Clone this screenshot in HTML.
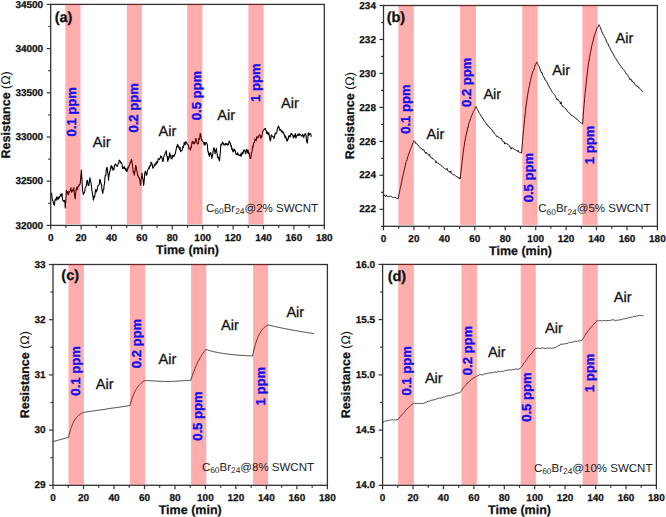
<!DOCTYPE html>
<html><head><meta charset="utf-8"><style>
html,body{margin:0;padding:0;background:#fff;}
svg{display:block;}
text{font-family:"Liberation Sans", sans-serif;text-rendering:geometricPrecision;}
.tk{font-size:10px;font-weight:bold;fill:#111;stroke:#111;stroke-width:0.25px;}
.ttl{font-size:12.5px;font-weight:bold;fill:#111;stroke:#111;stroke-width:0.25px;}
.tag{font-size:14.5px;font-weight:bold;fill:#111;stroke:#111;stroke-width:0.3px;}
.ppm{font-size:13.1px;font-weight:bold;fill:#1010f0;stroke:#1010f0;stroke-width:0.35px;}
.air{font-size:14.6px;fill:#111;stroke:#111;stroke-width:0.3px;}
.ann{font-size:11.5px;fill:#222;}
.sub{font-size:8.4px;}
</style></head><body>
<svg width="666" height="517" viewBox="0 0 666 517">
<rect width="666" height="517" fill="#fff"/>
<rect x="50.7" y="4.4" width="273.6" height="221.0" fill="none" stroke="#333" stroke-width="1.3"/>
<polyline points="51.3,192.8 51.7,194.1 52.1,198.0 52.5,200.3 53.0,201.0 53.5,203.3 53.9,204.6 54.4,205.3 54.8,201.3 55.3,199.0 55.7,199.0 56.2,200.2 56.6,197.3 57.0,196.9 57.5,197.8 57.9,199.8 58.3,197.2 58.8,198.6 59.2,196.8 59.6,197.3 60.0,196.5 60.5,194.2 61.0,195.5 61.5,195.8 62.0,193.4 62.6,200.3 63.1,200.4 63.5,201.4 64.0,201.1 64.5,200.3 64.9,202.2 65.3,207.9 65.8,200.2 66.4,190.3 66.8,191.9 67.2,191.9 67.6,194.0 68.0,191.5 68.5,194.8 68.9,192.8 69.4,191.4 69.8,191.2 70.3,190.6 70.8,187.7 71.2,189.9 71.6,192.1 72.0,191.5 72.5,190.1 73.0,190.9 73.4,188.4 73.9,187.7 74.3,193.4 74.8,196.9 75.2,199.0 75.6,193.9 76.0,190.7 76.4,189.0 76.9,187.1 77.3,189.8 77.8,186.8 78.3,186.5 78.8,186.4 79.2,184.4 79.7,184.7 80.2,184.0 80.6,178.9 81.0,174.1 81.4,170.1 82.0,180.6 82.5,190.3 82.9,191.9 83.3,194.5 83.7,194.0 84.2,192.7 84.7,191.7 85.2,187.7 85.7,187.4 86.2,186.1 86.6,182.8 87.1,180.2 87.5,180.4 88.0,185.1 88.4,185.2 88.8,185.4 89.2,183.2 89.6,179.9 90.0,177.7 90.5,181.6 91.0,182.3 91.5,186.5 92.0,191.4 92.5,193.7 92.9,195.9 93.4,200.3 93.9,196.2 94.3,197.5 94.8,195.9 95.3,191.5 95.8,189.4 96.2,192.2 96.7,190.2 97.2,190.3 97.6,187.1 98.0,186.0 98.4,185.2 98.9,185.1 99.3,184.3 99.8,179.4 100.3,180.2 100.8,183.2 101.3,183.2 101.8,187.7 102.3,191.5 102.8,193.4 103.2,189.9 103.7,189.6 104.1,185.2 104.5,184.0 104.9,178.6 105.3,175.2 105.8,175.5 106.2,170.6 106.7,167.6 107.2,167.6 107.6,172.2 108.1,173.9 108.5,180.2 108.9,175.9 109.3,173.9 109.7,171.4 110.2,170.6 110.7,167.4 111.1,165.6 111.6,166.4 112.1,168.6 112.5,166.8 113.0,170.3 113.5,168.9 114.0,169.4 114.5,165.8 114.9,164.9 115.4,163.8 115.9,164.5 116.3,165.7 116.8,166.2 117.3,166.4 117.8,165.1 118.2,163.8 118.7,163.6 119.2,160.1 119.7,160.8 120.2,161.0 120.6,162.9 121.1,162.6 121.6,162.7 122.0,164.2 122.5,168.5 123.0,167.6 123.5,168.0 123.9,168.5 124.3,166.4 124.8,168.9 125.2,169.0 125.6,170.3 126.1,168.3 126.5,171.5 126.9,171.5 127.4,170.8 127.9,167.1 128.3,168.3 128.8,166.5 129.2,165.2 129.6,165.0 130.1,162.4 130.5,162.8 130.9,161.8 131.3,159.6 131.7,159.8 132.1,162.3 132.5,166.5 133.0,169.5 133.4,172.9 133.9,172.0 134.4,175.3 134.8,171.8 135.3,169.0 135.7,165.3 136.2,167.0 136.6,169.7 137.1,172.0 137.6,175.3 138.1,175.7 138.6,177.6 139.0,177.3 139.5,179.1 139.9,180.7 140.3,184.5 140.7,185.4 141.1,179.1 141.6,177.3 142.0,172.8 142.4,177.0 142.8,178.3 143.2,181.0 143.6,185.4 144.1,182.1 144.6,175.0 145.1,171.5 145.5,171.4 146.0,173.7 146.4,175.3 146.9,174.6 147.4,170.4 147.8,169.8 148.3,169.0 148.8,167.3 149.2,168.6 149.7,166.0 150.2,165.3 150.6,166.0 151.0,162.1 151.4,162.7 151.9,163.3 152.4,165.9 152.8,168.2 153.3,167.8 153.8,167.0 154.2,165.3 154.7,164.3 155.2,165.3 155.7,164.5 156.1,162.0 156.6,163.8 157.1,161.5 157.6,162.4 158.1,158.9 158.5,158.7 159.0,159.0 159.4,159.6 159.9,158.0 160.4,157.9 160.8,155.8 161.3,156.5 161.8,157.0 162.2,159.2 162.7,161.5 163.2,161.2 163.6,157.3 164.1,156.1 164.6,155.2 165.0,153.7 165.4,152.6 165.9,151.5 166.3,150.8 166.8,156.2 167.3,156.4 167.8,161.5 168.3,157.1 168.8,159.1 169.2,156.6 169.7,152.7 170.1,156.1 170.6,154.9 171.1,158.4 171.5,157.7 172.0,159.0 172.4,155.2 172.9,156.9 173.4,155.2 173.9,156.4 174.4,155.3 174.8,154.3 175.3,153.9 175.8,150.9 176.2,149.2 176.7,146.6 177.2,145.8 177.7,144.3 178.1,147.1 178.6,146.2 179.1,147.6 179.6,149.8 180.1,147.2 180.5,151.8 181.0,150.8 181.5,150.6 181.9,150.5 182.4,149.2 182.9,146.4 183.3,147.5 183.8,145.5 184.2,142.4 184.7,143.9 185.2,144.7 185.6,141.8 186.1,142.0 186.6,142.6 187.1,144.1 187.6,144.3 188.0,144.6 188.5,145.8 189.0,148.8 189.4,148.5 189.9,148.4 190.4,150.2 190.9,146.9 191.4,147.4 191.8,143.5 192.3,141.4 192.8,143.3 193.2,142.0 193.7,141.9 194.2,143.9 194.7,142.8 195.1,142.7 195.6,138.6 196.1,138.8 196.6,141.4 197.1,143.2 197.5,144.0 198.0,143.9 198.4,143.6 198.8,138.4 199.2,139.4 199.7,138.8 200.1,133.5 200.5,133.8 201.0,136.0 201.5,140.2 201.9,139.6 202.3,141.2 202.7,141.2 203.1,142.0 203.6,142.7 204.1,144.8 204.5,142.2 205.0,145.2 205.5,142.9 205.9,142.9 206.4,142.6 206.9,143.9 207.3,144.5 207.8,151.1 208.2,151.5 208.6,154.7 209.0,153.0 209.4,156.5 209.8,155.2 210.3,153.2 210.7,152.7 211.1,153.8 211.5,155.8 211.9,158.4 212.4,156.4 212.9,153.4 213.3,149.8 213.8,147.7 214.2,148.4 214.7,151.1 215.1,154.0 215.5,150.4 216.0,150.4 216.4,148.3 216.8,152.4 217.2,154.1 217.6,157.8 218.1,156.7 218.6,157.9 219.0,159.6 219.5,160.9 219.9,156.1 220.4,151.7 220.8,145.2 221.2,143.9 221.7,144.9 222.2,143.3 222.6,142.0 223.0,142.8 223.5,143.6 223.9,145.2 224.4,144.7 224.9,145.1 225.3,143.4 225.8,143.3 226.3,144.6 226.8,144.1 227.2,143.6 227.7,145.2 228.2,144.6 228.6,144.5 229.1,140.9 229.6,142.0 230.1,142.6 230.5,143.6 230.9,146.5 231.4,145.8 231.8,149.4 232.3,148.6 232.7,150.8 233.1,152.0 233.6,150.9 234.0,149.0 234.4,149.1 234.9,151.0 235.4,150.6 235.8,153.4 236.3,154.6 236.8,153.8 237.2,154.6 237.7,152.7 238.2,154.6 238.6,154.7 239.1,155.6 239.6,155.2 240.1,155.7 240.6,153.8 241.0,156.1 241.5,155.9 242.0,152.6 242.4,152.1 242.9,153.8 243.4,151.5 243.9,149.8 244.4,150.3 244.8,150.6 245.3,152.7 245.8,153.9 246.2,150.3 246.7,149.2 247.2,150.8 247.7,152.8 248.1,150.1 248.6,153.7 249.1,152.7 249.5,155.4 249.9,158.0 250.3,158.4 250.7,158.5 251.2,154.9 251.6,152.7 252.1,151.8 252.6,146.3 253.0,147.3 253.5,143.9 253.9,142.8 254.4,142.6 254.9,138.9 255.3,139.5 255.8,140.3 256.2,140.8 256.7,136.7 257.2,138.3 257.7,136.7 258.1,137.0 258.6,137.3 259.1,135.1 259.6,134.8 260.1,135.3 260.5,136.4 261.0,138.3 261.5,137.1 261.9,136.0 262.4,132.7 262.9,131.4 263.3,130.3 263.8,129.8 264.2,129.1 264.6,129.2 265.0,129.2 265.4,128.2 265.8,130.4 266.2,130.8 266.7,133.5 267.2,131.7 267.7,132.8 268.2,134.6 268.7,132.7 269.2,134.9 269.8,138.8 270.3,141.0 270.8,139.1 271.3,134.9 271.8,136.2 272.3,136.0 272.8,136.4 273.2,136.5 273.6,137.3 274.0,138.5 274.4,136.9 274.9,134.3 275.4,133.1 275.9,133.8 276.4,133.2 276.9,132.2 277.4,128.7 277.9,127.5 278.5,126.1 279.0,127.2 279.5,129.8 280.0,130.2 280.5,129.4 281.0,130.2 281.5,131.8 281.9,130.7 282.3,132.7 282.7,131.7 283.1,132.8 283.6,132.3 284.1,135.0 284.6,134.9 285.1,137.9 285.6,136.0 286.1,137.9 286.6,140.4 287.2,141.0 287.7,138.9 288.2,139.2 288.7,135.9 289.2,136.6 289.7,135.5 290.2,136.9 290.6,134.9 291.0,133.3 291.4,134.5 291.8,133.8 292.3,134.7 292.8,135.1 293.3,137.9 293.7,136.5 294.1,135.6 294.5,136.9 294.9,134.9 295.4,133.8 295.9,138.1 296.4,136.4 296.9,135.6 297.4,135.4 297.9,134.3 298.3,134.0 298.7,135.5 299.1,135.3 299.5,133.8 300.0,134.6 300.5,134.8 301.0,135.4 301.5,136.0 302.0,136.2 302.5,134.3 302.9,134.3 303.3,136.1 303.7,137.5 304.1,135.9 304.6,135.2 305.1,133.6 305.6,134.3 306.0,135.3 306.4,139.7 306.8,141.7 307.2,143.1 307.7,140.0 308.2,132.8 308.7,135.4 309.2,134.9 309.7,133.2 310.2,133.8 310.8,134.0 311.3,136.9" fill="none" stroke="#000" stroke-width="1.1" stroke-linejoin="round"/>
<rect x="65.4" y="4.0" width="15.2" height="220.0" fill="rgba(255,0,0,0.32)"/>
<rect x="126.9" y="4.0" width="15.0" height="220.0" fill="rgba(255,0,0,0.32)"/>
<rect x="187.2" y="4.0" width="15.2" height="220.0" fill="rgba(255,0,0,0.32)"/>
<rect x="248.4" y="4.0" width="15.2" height="220.0" fill="rgba(255,0,0,0.32)"/>
<line x1="50.7" y1="225.4" x2="50.7" y2="229.4" stroke="#333" stroke-width="1.2"/>
<text x="50.7" y="241.1" text-anchor="middle" class="tk">0</text>
<line x1="65.9" y1="225.4" x2="65.9" y2="227.9" stroke="#333" stroke-width="1.2"/>
<line x1="81.1" y1="225.4" x2="81.1" y2="229.4" stroke="#333" stroke-width="1.2"/>
<text x="81.1" y="241.1" text-anchor="middle" class="tk">20</text>
<line x1="96.3" y1="225.4" x2="96.3" y2="227.9" stroke="#333" stroke-width="1.2"/>
<line x1="111.5" y1="225.4" x2="111.5" y2="229.4" stroke="#333" stroke-width="1.2"/>
<text x="111.5" y="241.1" text-anchor="middle" class="tk">40</text>
<line x1="126.7" y1="225.4" x2="126.7" y2="227.9" stroke="#333" stroke-width="1.2"/>
<line x1="141.9" y1="225.4" x2="141.9" y2="229.4" stroke="#333" stroke-width="1.2"/>
<text x="141.9" y="241.1" text-anchor="middle" class="tk">60</text>
<line x1="157.1" y1="225.4" x2="157.1" y2="227.9" stroke="#333" stroke-width="1.2"/>
<line x1="172.3" y1="225.4" x2="172.3" y2="229.4" stroke="#333" stroke-width="1.2"/>
<text x="172.3" y="241.1" text-anchor="middle" class="tk">80</text>
<line x1="187.5" y1="225.4" x2="187.5" y2="227.9" stroke="#333" stroke-width="1.2"/>
<line x1="202.7" y1="225.4" x2="202.7" y2="229.4" stroke="#333" stroke-width="1.2"/>
<text x="202.7" y="241.1" text-anchor="middle" class="tk">100</text>
<line x1="217.9" y1="225.4" x2="217.9" y2="227.9" stroke="#333" stroke-width="1.2"/>
<line x1="233.1" y1="225.4" x2="233.1" y2="229.4" stroke="#333" stroke-width="1.2"/>
<text x="233.1" y="241.1" text-anchor="middle" class="tk">120</text>
<line x1="248.3" y1="225.4" x2="248.3" y2="227.9" stroke="#333" stroke-width="1.2"/>
<line x1="263.5" y1="225.4" x2="263.5" y2="229.4" stroke="#333" stroke-width="1.2"/>
<text x="263.5" y="241.1" text-anchor="middle" class="tk">140</text>
<line x1="278.7" y1="225.4" x2="278.7" y2="227.9" stroke="#333" stroke-width="1.2"/>
<line x1="293.9" y1="225.4" x2="293.9" y2="229.4" stroke="#333" stroke-width="1.2"/>
<text x="293.9" y="241.1" text-anchor="middle" class="tk">160</text>
<line x1="309.1" y1="225.4" x2="309.1" y2="227.9" stroke="#333" stroke-width="1.2"/>
<line x1="324.3" y1="225.4" x2="324.3" y2="229.4" stroke="#333" stroke-width="1.2"/>
<text x="324.3" y="241.1" text-anchor="middle" class="tk">180</text>
<line x1="46.7" y1="225.4" x2="50.7" y2="225.4" stroke="#333" stroke-width="1.2"/>
<text x="43.2" y="228.5" text-anchor="end" class="tk">32000</text>
<line x1="48.2" y1="203.3" x2="50.7" y2="203.3" stroke="#333" stroke-width="1.2"/>
<line x1="46.7" y1="181.2" x2="50.7" y2="181.2" stroke="#333" stroke-width="1.2"/>
<text x="43.2" y="184.3" text-anchor="end" class="tk">32500</text>
<line x1="48.2" y1="159.1" x2="50.7" y2="159.1" stroke="#333" stroke-width="1.2"/>
<line x1="46.7" y1="137.0" x2="50.7" y2="137.0" stroke="#333" stroke-width="1.2"/>
<text x="43.2" y="140.1" text-anchor="end" class="tk">33000</text>
<line x1="48.2" y1="114.9" x2="50.7" y2="114.9" stroke="#333" stroke-width="1.2"/>
<line x1="46.7" y1="92.8" x2="50.7" y2="92.8" stroke="#333" stroke-width="1.2"/>
<text x="43.2" y="95.9" text-anchor="end" class="tk">33500</text>
<line x1="48.2" y1="70.7" x2="50.7" y2="70.7" stroke="#333" stroke-width="1.2"/>
<line x1="46.7" y1="48.6" x2="50.7" y2="48.6" stroke="#333" stroke-width="1.2"/>
<text x="43.2" y="51.7" text-anchor="end" class="tk">34000</text>
<line x1="48.2" y1="26.5" x2="50.7" y2="26.5" stroke="#333" stroke-width="1.2"/>
<line x1="46.7" y1="4.4" x2="50.7" y2="4.4" stroke="#333" stroke-width="1.2"/>
<text x="43.2" y="7.5" text-anchor="end" class="tk">34500</text>
<text x="187.5" y="253.6" text-anchor="middle" class="ttl">Time (min)</text>
<text transform="translate(9.7,114.85) rotate(-90)" text-anchor="middle" class="ttl">Resistance <tspan font-weight="normal" stroke-width="0">(&#937;)</tspan></text>
<text x="54.7" y="21.5" class="tag">(a)</text>
<text transform="translate(76.4,111.75) rotate(-90)" text-anchor="middle" class="ppm">0.1 ppm</text>
<text transform="translate(137.8,107.85) rotate(-90)" text-anchor="middle" class="ppm">0.2 ppm</text>
<text transform="translate(200.5,95.55) rotate(-90)" text-anchor="middle" class="ppm">0.5 ppm</text>
<text transform="translate(259.9,82.6) rotate(-90)" text-anchor="middle" class="ppm">1 ppm</text>
<text x="92.7" y="147.3" class="air">Air</text>
<text x="158.5" y="135.7" class="air">Air</text>
<text x="217.2" y="119.6" class="air">Air</text>
<text x="281.1" y="108.0" class="air">Air</text>
<text x="206.0" y="212.1" class="ann">C<tspan class="sub" dy="2.2">60</tspan><tspan dy="-2.2">Br</tspan><tspan class="sub" dy="2.2">24</tspan><tspan dy="-2.2">@2% SWCNT</tspan></text>
<rect x="383.5" y="5.5" width="273.9" height="220.8" fill="none" stroke="#333" stroke-width="1.3"/>
<polyline points="383.8,195.6 384.3,194.9 384.8,195.9 385.3,196.2 385.8,196.1 386.3,194.9 386.8,196.3 387.3,196.6 387.8,196.1 388.3,196.4 388.8,196.7 389.3,196.3 389.8,196.6 390.3,196.3 390.8,196.2 391.3,196.9 391.8,196.8 392.3,197.1 392.8,197.5 393.3,197.4 393.8,197.5 394.4,197.4 394.9,197.6 395.4,197.4 395.9,197.7 396.4,198.4 396.9,198.3 397.4,198.5 397.9,198.4 398.4,198.4 398.9,194.6 399.4,192.8 399.9,190.2 400.4,187.4 400.9,185.6 401.4,182.9 401.9,180.5 402.4,177.6 402.9,175.9 403.4,173.5 403.9,171.5 404.4,169.2 404.9,167.3 405.4,165.3 405.9,162.0 406.5,161.4 407.0,159.8 407.5,157.9 408.0,156.5 408.5,153.7 409.0,153.6 409.5,151.8 410.0,150.4 410.5,148.9 411.0,148.1 411.5,147.3 412.0,145.6 412.5,144.0 413.0,142.8 413.5,142.2 414.0,140.6 414.5,141.1 415.0,141.6 415.5,143.4 416.0,142.9 416.5,143.4 417.0,144.1 417.5,144.8 418.0,144.8 418.5,145.8 419.0,146.6 419.5,147.0 420.0,147.4 420.5,147.7 421.0,148.3 421.5,149.0 422.0,148.9 422.5,149.8 423.0,149.7 423.5,150.0 424.0,149.8 424.5,151.4 425.0,152.1 425.6,153.5 426.1,152.2 426.6,152.6 427.1,153.6 427.6,154.1 428.1,154.3 428.6,154.7 429.1,155.6 429.6,154.5 430.1,156.5 430.6,157.2 431.1,157.1 431.6,157.8 432.1,157.7 432.6,158.8 433.1,158.9 433.6,159.2 434.1,159.7 434.6,160.2 435.1,160.7 435.6,161.0 436.1,162.9 436.6,161.7 437.1,162.5 437.6,163.0 438.1,163.6 438.6,163.4 439.1,163.7 439.6,164.5 440.1,164.3 440.6,164.9 441.1,165.6 441.6,165.5 442.1,166.4 442.6,166.9 443.1,167.2 443.6,167.6 444.1,168.2 444.6,168.7 445.1,169.1 445.6,169.3 446.1,169.1 446.6,169.4 447.1,168.4 447.6,170.4 448.1,171.1 448.6,171.3 449.2,171.3 449.7,172.3 450.2,172.5 450.7,170.9 451.2,173.2 451.7,173.6 452.2,174.2 452.7,174.3 453.2,174.5 453.7,174.9 454.2,174.7 454.7,175.3 455.2,175.7 455.7,175.8 456.2,176.1 456.7,176.8 457.2,176.8 457.7,177.0 458.2,177.9 458.7,177.9 459.2,178.5 459.7,177.6 460.2,178.9 460.7,173.9 461.2,169.5 461.7,166.1 462.2,160.9 462.7,156.9 463.2,152.7 463.7,149.1 464.1,146.4 464.6,142.9 465.1,140.0 465.6,137.2 466.1,135.0 466.6,133.1 467.1,130.7 467.6,127.6 468.1,127.6 468.6,124.2 469.1,122.8 469.6,121.4 470.1,120.1 470.6,118.5 471.1,117.3 471.6,115.8 472.1,114.9 472.5,113.2 473.0,112.5 473.5,111.3 474.0,110.7 474.5,109.6 475.0,108.3 475.5,107.3 476.0,106.6 476.5,108.1 477.0,108.7 477.5,109.7 478.0,110.4 478.5,111.8 479.0,112.9 479.5,113.4 480.0,114.4 480.5,114.7 481.0,115.9 481.5,116.7 482.0,117.8 482.5,117.8 483.0,118.8 483.5,119.8 484.0,120.2 484.5,121.2 485.0,122.1 485.5,122.7 486.0,123.2 486.5,124.3 487.0,124.3 487.5,125.0 488.0,126.3 488.5,126.5 489.0,126.6 489.5,127.7 490.0,127.7 490.5,128.6 491.0,128.8 491.5,129.2 492.0,129.8 492.5,131.0 493.0,131.9 493.5,132.2 494.0,132.3 494.5,133.4 495.0,134.2 495.5,134.7 496.0,135.2 496.5,136.4 497.0,136.1 497.5,136.7 498.0,137.1 498.5,137.2 499.1,137.5 499.6,137.7 500.1,138.2 500.6,138.5 501.1,138.9 501.6,138.4 502.1,140.5 502.6,141.2 503.1,141.1 503.6,141.6 504.1,141.7 504.6,144.1 505.1,142.8 505.6,143.4 506.1,143.3 506.6,143.6 507.1,143.8 507.6,144.2 508.1,144.4 508.6,145.0 509.1,145.7 509.6,146.6 510.1,146.5 510.6,147.3 511.1,149.2 511.6,148.1 512.1,147.5 512.6,148.2 513.1,148.6 513.6,148.7 514.1,149.4 514.6,149.2 515.1,149.4 515.6,149.9 516.1,150.4 516.6,150.5 517.1,151.3 517.6,151.2 518.1,150.3 518.6,151.9 519.1,152.5 519.6,152.1 520.1,152.7 520.6,152.5 521.1,152.9 521.6,153.2 522.1,146.2 522.6,140.4 523.1,134.3 523.6,129.1 524.1,124.0 524.6,119.3 525.1,114.9 525.5,110.7 526.0,106.3 526.5,103.0 527.0,99.1 527.5,95.8 528.0,92.8 528.5,89.8 529.0,87.5 529.5,85.5 530.0,82.7 530.5,80.5 531.0,78.3 531.5,76.2 532.0,74.2 532.5,72.8 533.0,71.0 533.4,70.8 533.9,70.2 534.4,67.6 534.9,66.2 535.4,64.5 535.9,63.9 536.4,62.7 536.9,61.9 537.4,63.4 537.9,64.3 538.4,65.7 538.9,66.2 539.4,67.1 539.9,68.8 540.4,70.2 540.9,71.4 541.4,72.6 541.9,72.2 542.4,74.3 542.9,75.6 543.4,76.3 543.9,77.2 544.4,78.1 544.9,79.7 545.4,79.8 545.9,80.7 546.4,81.4 546.9,82.2 547.4,83.1 547.9,84.4 548.5,85.2 549.0,86.5 549.5,87.3 550.0,88.2 550.5,89.0 551.0,89.8 551.5,90.7 552.0,91.8 552.5,92.6 553.0,93.1 553.5,93.6 554.0,94.2 554.5,94.8 555.0,95.5 555.5,96.6 556.0,97.7 556.5,98.0 557.0,100.0 557.5,100.0 558.0,99.4 558.5,100.4 559.0,101.0 559.5,101.8 560.0,102.5 560.5,104.0 561.0,101.8 561.5,104.7 562.0,105.4 562.5,106.3 563.0,106.5 563.5,106.5 564.0,107.5 564.5,108.0 565.0,108.5 565.5,108.6 566.0,108.6 566.5,109.7 567.0,110.6 567.5,111.5 568.0,112.0 568.5,112.3 569.0,112.4 569.5,113.3 570.0,114.0 570.5,114.3 571.0,115.0 571.6,115.4 572.1,115.4 572.6,115.5 573.1,116.3 573.6,116.5 574.1,117.1 574.6,117.4 575.1,117.9 575.6,118.0 576.1,118.2 576.6,119.2 577.1,119.8 577.6,119.8 578.1,120.1 578.6,120.7 579.1,121.5 579.6,122.0 580.1,122.5 580.6,122.4 581.1,122.9 581.6,123.4 582.1,123.7 582.6,123.9 583.1,117.1 583.6,110.2 584.1,104.7 584.6,98.6 585.1,93.7 585.6,89.0 586.1,84.2 586.6,79.0 587.0,75.4 587.5,71.2 588.0,67.3 588.5,62.8 589.0,61.0 589.5,57.5 590.0,54.7 590.5,52.3 591.0,50.1 591.5,46.9 592.0,44.9 592.5,42.8 593.0,41.2 593.5,39.0 594.0,37.2 594.5,35.2 594.9,34.0 595.4,32.9 595.9,31.6 596.4,30.0 596.9,28.0 597.4,27.4 597.9,26.7 598.4,25.8 598.9,24.7 599.4,25.9 599.9,26.5 600.4,27.9 600.9,28.9 601.4,30.5 601.9,31.8 602.4,33.2 602.9,33.9 603.4,35.0 603.9,35.7 604.4,36.3 604.9,37.6 605.4,38.5 605.9,39.6 606.4,41.2 606.9,42.5 607.4,43.1 607.9,43.7 608.4,45.0 608.9,46.1 609.4,46.9 609.9,47.7 610.4,49.2 610.9,50.3 611.4,50.6 611.9,51.8 612.4,52.7 612.9,53.3 613.4,54.3 613.9,55.2 614.4,56.5 614.9,57.4 615.4,58.0 615.9,58.4 616.4,59.6 616.9,60.7 617.4,61.3 617.9,61.6 618.4,62.6 618.9,63.5 619.4,64.3 619.9,64.9 620.4,65.5 621.0,66.3 621.5,67.1 622.0,67.7 622.5,68.5 623.0,68.9 623.5,69.4 624.0,70.1 624.5,70.7 625.0,71.5 625.5,72.7 626.0,73.0 626.5,73.8 627.0,74.5 627.5,75.3 628.0,75.6 628.5,76.9 629.0,77.6 629.5,78.0 630.0,79.6 630.5,78.9 631.0,79.6 631.5,79.8 632.0,81.5 632.5,81.2 633.0,82.0 633.5,82.7 634.0,82.4 634.5,83.8 635.0,84.5 635.5,85.2 636.0,85.8 636.5,85.8 637.0,86.5 637.5,86.1 638.0,87.0 638.5,87.2 639.0,87.9 639.5,88.2 640.0,88.6 640.5,89.2 641.0,89.6 641.5,90.6 642.0,91.0 642.5,91.2 643.0,92.0" fill="none" stroke="#000" stroke-width="0.95" stroke-linejoin="round"/>
<rect x="398.4" y="5.1" width="15.4" height="219.8" fill="rgba(255,0,0,0.32)"/>
<rect x="460.1" y="5.1" width="15.9" height="219.8" fill="rgba(255,0,0,0.32)"/>
<rect x="522.3" y="5.1" width="15.2" height="219.8" fill="rgba(255,0,0,0.32)"/>
<rect x="582.4" y="5.1" width="15.2" height="219.8" fill="rgba(255,0,0,0.32)"/>
<line x1="383.5" y1="226.3" x2="383.5" y2="230.3" stroke="#333" stroke-width="1.2"/>
<text x="383.5" y="242.0" text-anchor="middle" class="tk">0</text>
<line x1="398.7" y1="226.3" x2="398.7" y2="228.8" stroke="#333" stroke-width="1.2"/>
<line x1="413.9" y1="226.3" x2="413.9" y2="230.3" stroke="#333" stroke-width="1.2"/>
<text x="413.9" y="242.0" text-anchor="middle" class="tk">20</text>
<line x1="429.1" y1="226.3" x2="429.1" y2="228.8" stroke="#333" stroke-width="1.2"/>
<line x1="444.4" y1="226.3" x2="444.4" y2="230.3" stroke="#333" stroke-width="1.2"/>
<text x="444.4" y="242.0" text-anchor="middle" class="tk">40</text>
<line x1="459.6" y1="226.3" x2="459.6" y2="228.8" stroke="#333" stroke-width="1.2"/>
<line x1="474.8" y1="226.3" x2="474.8" y2="230.3" stroke="#333" stroke-width="1.2"/>
<text x="474.8" y="242.0" text-anchor="middle" class="tk">60</text>
<line x1="490.0" y1="226.3" x2="490.0" y2="228.8" stroke="#333" stroke-width="1.2"/>
<line x1="505.2" y1="226.3" x2="505.2" y2="230.3" stroke="#333" stroke-width="1.2"/>
<text x="505.2" y="242.0" text-anchor="middle" class="tk">80</text>
<line x1="520.5" y1="226.3" x2="520.5" y2="228.8" stroke="#333" stroke-width="1.2"/>
<line x1="535.7" y1="226.3" x2="535.7" y2="230.3" stroke="#333" stroke-width="1.2"/>
<text x="535.7" y="242.0" text-anchor="middle" class="tk">100</text>
<line x1="550.9" y1="226.3" x2="550.9" y2="228.8" stroke="#333" stroke-width="1.2"/>
<line x1="566.1" y1="226.3" x2="566.1" y2="230.3" stroke="#333" stroke-width="1.2"/>
<text x="566.1" y="242.0" text-anchor="middle" class="tk">120</text>
<line x1="581.3" y1="226.3" x2="581.3" y2="228.8" stroke="#333" stroke-width="1.2"/>
<line x1="596.5" y1="226.3" x2="596.5" y2="230.3" stroke="#333" stroke-width="1.2"/>
<text x="596.5" y="242.0" text-anchor="middle" class="tk">140</text>
<line x1="611.8" y1="226.3" x2="611.8" y2="228.8" stroke="#333" stroke-width="1.2"/>
<line x1="627.0" y1="226.3" x2="627.0" y2="230.3" stroke="#333" stroke-width="1.2"/>
<text x="627.0" y="242.0" text-anchor="middle" class="tk">160</text>
<line x1="642.2" y1="226.3" x2="642.2" y2="228.8" stroke="#333" stroke-width="1.2"/>
<line x1="657.4" y1="226.3" x2="657.4" y2="230.3" stroke="#333" stroke-width="1.2"/>
<text x="657.4" y="242.0" text-anchor="middle" class="tk">180</text>
<line x1="381.0" y1="226.3" x2="383.5" y2="226.3" stroke="#333" stroke-width="1.2"/>
<line x1="379.5" y1="209.3" x2="383.5" y2="209.3" stroke="#333" stroke-width="1.2"/>
<text x="376.0" y="212.4" text-anchor="end" class="tk">222</text>
<line x1="381.0" y1="192.3" x2="383.5" y2="192.3" stroke="#333" stroke-width="1.2"/>
<line x1="379.5" y1="175.3" x2="383.5" y2="175.3" stroke="#333" stroke-width="1.2"/>
<text x="376.0" y="178.4" text-anchor="end" class="tk">224</text>
<line x1="381.0" y1="158.4" x2="383.5" y2="158.4" stroke="#333" stroke-width="1.2"/>
<line x1="379.5" y1="141.4" x2="383.5" y2="141.4" stroke="#333" stroke-width="1.2"/>
<text x="376.0" y="144.5" text-anchor="end" class="tk">226</text>
<line x1="381.0" y1="124.4" x2="383.5" y2="124.4" stroke="#333" stroke-width="1.2"/>
<line x1="379.5" y1="107.4" x2="383.5" y2="107.4" stroke="#333" stroke-width="1.2"/>
<text x="376.0" y="110.5" text-anchor="end" class="tk">228</text>
<line x1="381.0" y1="90.4" x2="383.5" y2="90.4" stroke="#333" stroke-width="1.2"/>
<line x1="379.5" y1="73.4" x2="383.5" y2="73.4" stroke="#333" stroke-width="1.2"/>
<text x="376.0" y="76.5" text-anchor="end" class="tk">230</text>
<line x1="381.0" y1="56.5" x2="383.5" y2="56.5" stroke="#333" stroke-width="1.2"/>
<line x1="379.5" y1="39.5" x2="383.5" y2="39.5" stroke="#333" stroke-width="1.2"/>
<text x="376.0" y="42.6" text-anchor="end" class="tk">232</text>
<line x1="381.0" y1="22.5" x2="383.5" y2="22.5" stroke="#333" stroke-width="1.2"/>
<line x1="379.5" y1="5.5" x2="383.5" y2="5.5" stroke="#333" stroke-width="1.2"/>
<text x="376.0" y="8.6" text-anchor="end" class="tk">234</text>
<text x="520.5" y="254.5" text-anchor="middle" class="ttl">Time (min)</text>
<text transform="translate(354.2,115.75) rotate(-90)" text-anchor="middle" class="ttl">Resistance <tspan font-weight="normal" stroke-width="0">(&#937;)</tspan></text>
<text x="386.7" y="21.5" class="tag">(b)</text>
<text transform="translate(410.0,109.1) rotate(-90)" text-anchor="middle" class="ppm">0.1 ppm</text>
<text transform="translate(471.4,82.3) rotate(-90)" text-anchor="middle" class="ppm">0.2 ppm</text>
<text transform="translate(533.3,177.6) rotate(-90)" text-anchor="middle" class="ppm">0.5 ppm</text>
<text transform="translate(593.7,145.0) rotate(-90)" text-anchor="middle" class="ppm">1 ppm</text>
<text x="426.5" y="138.5" class="air">Air</text>
<text x="483.4" y="98.8" class="air">Air</text>
<text x="552.2" y="75.2" class="air">Air</text>
<text x="615.5" y="43.1" class="air">Air</text>
<text x="538.3" y="212.4" class="ann">C<tspan class="sub" dy="2.2">60</tspan><tspan dy="-2.2">Br</tspan><tspan class="sub" dy="2.2">24</tspan><tspan dy="-2.2">@5% SWCNT</tspan></text>
<rect x="53.0" y="264.5" width="274.4" height="220.8" fill="none" stroke="#333" stroke-width="1.3"/>
<polyline points="53.5,441.5 54.2,441.3 54.9,441.1 55.6,440.9 56.4,440.7 57.1,440.5 57.8,440.3 58.5,440.1 59.2,439.9 59.9,439.7 60.6,439.5 61.4,439.3 62.1,439.1 62.8,438.9 63.5,438.7 64.2,438.5 64.9,438.3 65.6,438.1 66.4,437.9 67.1,437.7 67.8,437.5 68.5,437.3 69.2,434.4 69.9,431.8 70.6,429.4 71.3,427.4 72.0,425.5 72.7,423.8 73.4,422.4 74.1,421.0 74.8,419.9 75.5,418.8 76.2,417.9 77.0,417.0 77.7,416.3 78.4,415.6 79.1,415.0 79.8,414.5 80.5,414.0 81.2,413.6 81.9,413.2 82.6,412.9 83.3,412.6 84.0,412.3 84.7,412.2 85.4,412.1 86.1,412.0 86.8,411.9 87.5,411.8 88.2,411.7 88.9,411.6 89.6,411.5 90.3,411.4 91.0,411.3 91.7,411.2 92.3,411.1 93.0,411.0 93.7,410.9 94.4,410.8 95.1,410.7 95.8,410.6 96.5,410.5 97.2,410.4 97.9,410.3 98.6,410.2 99.3,410.1 100.0,410.0 100.7,409.9 101.4,409.8 102.1,409.7 102.8,409.6 103.5,409.5 104.2,409.4 104.9,409.3 105.6,409.2 106.3,409.1 107.0,409.0 107.6,408.8 108.3,408.7 109.0,408.6 109.7,408.5 110.4,408.4 111.1,408.3 111.8,408.2 112.5,408.1 113.2,408.0 113.9,407.9 114.6,407.8 115.3,407.7 116.0,407.6 116.7,407.5 117.4,407.4 118.1,407.3 118.8,407.2 119.5,407.1 120.2,407.0 120.9,406.9 121.6,406.8 122.2,406.7 122.9,406.6 123.6,406.5 124.3,406.4 125.0,406.3 125.7,406.2 126.4,406.1 127.1,406.0 127.8,405.9 128.5,405.8 129.2,405.7 129.9,405.6 130.6,403.1 131.3,400.8 132.0,398.7 132.7,396.8 133.4,395.0 134.0,393.4 134.7,391.9 135.4,390.6 136.1,389.4 136.8,388.3 137.5,387.3 138.2,386.3 138.9,385.5 139.6,384.7 140.3,384.0 141.0,383.3 141.6,382.8 142.3,382.2 143.0,381.7 143.7,381.3 144.4,380.9 145.1,380.5 145.8,380.5 146.5,380.6 147.2,380.6 147.9,380.6 148.6,380.7 149.3,380.7 150.0,380.7 150.7,380.8 151.3,380.8 152.0,380.8 152.7,380.9 153.4,380.9 154.1,380.9 154.8,381.0 155.5,381.0 156.2,381.0 156.9,381.1 157.6,381.1 158.3,381.1 159.0,381.2 159.7,381.2 160.4,381.2 161.1,381.3 161.8,381.3 162.4,381.3 163.1,381.4 163.8,381.4 164.5,381.4 165.2,381.5 165.9,381.5 166.6,381.5 167.3,381.6 168.0,381.6 168.7,381.6 169.4,381.5 170.1,381.5 170.8,381.4 171.5,381.4 172.1,381.4 172.8,381.3 173.5,381.3 174.2,381.2 174.9,381.2 175.6,381.2 176.3,381.1 177.0,381.1 177.7,381.0 178.4,381.0 179.1,381.0 179.7,380.9 180.4,380.9 181.1,380.9 181.8,380.8 182.5,380.8 183.2,380.7 183.9,380.7 184.6,380.7 185.3,380.6 186.0,380.6 186.7,380.5 187.3,380.5 188.0,380.5 188.7,380.4 189.4,380.4 190.1,380.3 190.8,380.3 191.5,378.0 192.2,375.9 192.9,373.8 193.7,371.8 194.4,370.0 195.1,368.2 195.8,366.5 196.5,364.9 197.2,363.3 197.9,361.8 198.7,360.4 199.4,359.1 200.1,357.8 200.8,356.6 201.5,355.4 202.2,354.3 202.9,353.3 203.7,352.3 204.4,351.3 205.1,350.4 205.8,349.5 206.5,349.7 207.2,349.9 207.9,350.1 208.6,350.3 209.3,350.5 210.0,350.7 210.7,350.9 211.4,351.1 212.1,351.3 212.8,351.4 213.5,351.6 214.2,351.8 214.9,351.9 215.6,352.1 216.3,352.2 217.0,352.4 217.7,352.5 218.4,352.6 219.1,352.8 219.8,352.9 220.5,353.0 221.2,353.1 221.9,353.2 222.6,353.3 223.3,353.5 224.0,353.6 224.7,353.7 225.4,353.8 226.1,353.9 226.8,353.9 227.5,354.0 228.2,354.1 228.9,354.2 229.5,354.3 230.2,354.4 230.9,354.5 231.6,354.5 232.3,354.6 233.0,354.7 233.7,354.7 234.4,354.8 235.1,354.9 235.8,354.9 236.5,355.0 237.2,355.1 237.9,355.1 238.6,355.2 239.3,355.2 240.0,355.3 240.7,355.3 241.4,355.4 242.1,355.4 242.8,355.5 243.5,355.5 244.2,355.6 244.9,355.6 245.6,355.6 246.3,355.7 247.0,355.7 247.7,355.8 248.4,355.8 249.1,355.8 249.8,355.9 250.5,355.9 251.2,355.9 251.9,356.0 252.6,356.0 253.3,352.7 254.0,349.7 254.7,346.9 255.4,344.5 256.1,342.2 256.7,340.2 257.4,338.4 258.1,336.7 258.8,335.2 259.5,333.9 260.2,332.7 260.9,331.6 261.6,330.6 262.3,329.6 263.0,328.8 263.7,328.1 264.3,327.4 265.0,326.8 265.7,326.3 266.4,325.8 267.1,325.3 267.8,324.9 268.5,325.1 269.2,325.2 269.9,325.4 270.6,325.6 271.3,325.7 272.0,325.9 272.7,326.0 273.4,326.2 274.1,326.4 274.8,326.5 275.5,326.7 276.2,326.8 276.9,327.0 277.6,327.1 278.3,327.3 279.0,327.4 279.7,327.6 280.4,327.7 281.1,327.9 281.8,328.0 282.5,328.2 283.2,328.3 283.9,328.4 284.6,328.6 285.3,328.7 286.0,328.9 286.7,329.0 287.4,329.1 288.1,329.3 288.8,329.4 289.5,329.5 290.2,329.7 291.0,329.8 291.7,329.9 292.4,330.0 293.1,330.2 293.8,330.3 294.5,330.4 295.2,330.6 295.9,330.7 296.6,330.8 297.3,330.9 298.0,331.0 298.7,331.2 299.4,331.3 300.1,331.4 300.8,331.5 301.5,331.6 302.2,331.8 302.9,331.9 303.6,332.0 304.3,332.1 305.0,332.2 305.7,332.3 306.4,332.4 307.1,332.5 307.8,332.7 308.5,332.8 309.2,332.9 309.9,333.0 310.6,333.1 311.3,333.2 312.0,333.3 312.7,333.4 313.4,333.5 314.1,333.6" fill="none" stroke="#000" stroke-width="0.75" stroke-linejoin="round"/>
<rect x="68.5" y="264.1" width="15.4" height="220.5" fill="rgba(255,0,0,0.32)"/>
<rect x="130.0" y="264.1" width="15.2" height="220.5" fill="rgba(255,0,0,0.32)"/>
<rect x="191.1" y="264.1" width="15.2" height="220.5" fill="rgba(255,0,0,0.32)"/>
<rect x="253.1" y="264.1" width="15.0" height="220.5" fill="rgba(255,0,0,0.32)"/>
<line x1="53.0" y1="485.3" x2="53.0" y2="489.3" stroke="#333" stroke-width="1.2"/>
<text x="53.0" y="501.0" text-anchor="middle" class="tk">0</text>
<line x1="68.2" y1="485.3" x2="68.2" y2="487.8" stroke="#333" stroke-width="1.2"/>
<line x1="83.5" y1="485.3" x2="83.5" y2="489.3" stroke="#333" stroke-width="1.2"/>
<text x="83.5" y="501.0" text-anchor="middle" class="tk">20</text>
<line x1="98.7" y1="485.3" x2="98.7" y2="487.8" stroke="#333" stroke-width="1.2"/>
<line x1="114.0" y1="485.3" x2="114.0" y2="489.3" stroke="#333" stroke-width="1.2"/>
<text x="114.0" y="501.0" text-anchor="middle" class="tk">40</text>
<line x1="129.2" y1="485.3" x2="129.2" y2="487.8" stroke="#333" stroke-width="1.2"/>
<line x1="144.5" y1="485.3" x2="144.5" y2="489.3" stroke="#333" stroke-width="1.2"/>
<text x="144.5" y="501.0" text-anchor="middle" class="tk">60</text>
<line x1="159.7" y1="485.3" x2="159.7" y2="487.8" stroke="#333" stroke-width="1.2"/>
<line x1="175.0" y1="485.3" x2="175.0" y2="489.3" stroke="#333" stroke-width="1.2"/>
<text x="175.0" y="501.0" text-anchor="middle" class="tk">80</text>
<line x1="190.2" y1="485.3" x2="190.2" y2="487.8" stroke="#333" stroke-width="1.2"/>
<line x1="205.4" y1="485.3" x2="205.4" y2="489.3" stroke="#333" stroke-width="1.2"/>
<text x="205.4" y="501.0" text-anchor="middle" class="tk">100</text>
<line x1="220.7" y1="485.3" x2="220.7" y2="487.8" stroke="#333" stroke-width="1.2"/>
<line x1="235.9" y1="485.3" x2="235.9" y2="489.3" stroke="#333" stroke-width="1.2"/>
<text x="235.9" y="501.0" text-anchor="middle" class="tk">120</text>
<line x1="251.2" y1="485.3" x2="251.2" y2="487.8" stroke="#333" stroke-width="1.2"/>
<line x1="266.4" y1="485.3" x2="266.4" y2="489.3" stroke="#333" stroke-width="1.2"/>
<text x="266.4" y="501.0" text-anchor="middle" class="tk">140</text>
<line x1="281.7" y1="485.3" x2="281.7" y2="487.8" stroke="#333" stroke-width="1.2"/>
<line x1="296.9" y1="485.3" x2="296.9" y2="489.3" stroke="#333" stroke-width="1.2"/>
<text x="296.9" y="501.0" text-anchor="middle" class="tk">160</text>
<line x1="312.2" y1="485.3" x2="312.2" y2="487.8" stroke="#333" stroke-width="1.2"/>
<line x1="327.4" y1="485.3" x2="327.4" y2="489.3" stroke="#333" stroke-width="1.2"/>
<text x="327.4" y="501.0" text-anchor="middle" class="tk">180</text>
<line x1="49.0" y1="485.3" x2="53.0" y2="485.3" stroke="#333" stroke-width="1.2"/>
<text x="45.5" y="488.4" text-anchor="end" class="tk">29</text>
<line x1="50.5" y1="457.7" x2="53.0" y2="457.7" stroke="#333" stroke-width="1.2"/>
<line x1="49.0" y1="430.1" x2="53.0" y2="430.1" stroke="#333" stroke-width="1.2"/>
<text x="45.5" y="433.2" text-anchor="end" class="tk">30</text>
<line x1="50.5" y1="402.5" x2="53.0" y2="402.5" stroke="#333" stroke-width="1.2"/>
<line x1="49.0" y1="374.9" x2="53.0" y2="374.9" stroke="#333" stroke-width="1.2"/>
<text x="45.5" y="378.0" text-anchor="end" class="tk">31</text>
<line x1="50.5" y1="347.3" x2="53.0" y2="347.3" stroke="#333" stroke-width="1.2"/>
<line x1="49.0" y1="319.7" x2="53.0" y2="319.7" stroke="#333" stroke-width="1.2"/>
<text x="45.5" y="322.8" text-anchor="end" class="tk">32</text>
<line x1="50.5" y1="292.1" x2="53.0" y2="292.1" stroke="#333" stroke-width="1.2"/>
<line x1="49.0" y1="264.5" x2="53.0" y2="264.5" stroke="#333" stroke-width="1.2"/>
<text x="45.5" y="267.6" text-anchor="end" class="tk">33</text>
<text x="190.2" y="513.5" text-anchor="middle" class="ttl">Time (min)</text>
<text transform="translate(28.7,374.75) rotate(-90)" text-anchor="middle" class="ttl">Resistance <tspan font-weight="normal" stroke-width="0">(&#937;)</tspan></text>
<text x="61.3" y="280.4" class="tag">(c)</text>
<text transform="translate(79.6,370.9) rotate(-90)" text-anchor="middle" class="ppm">0.1 ppm</text>
<text transform="translate(140.5,343.5) rotate(-90)" text-anchor="middle" class="ppm">0.2 ppm</text>
<text transform="translate(202.1,416.1) rotate(-90)" text-anchor="middle" class="ppm">0.5 ppm</text>
<text transform="translate(264.5,386.2) rotate(-90)" text-anchor="middle" class="ppm">1 ppm</text>
<text x="95.8" y="389.3" class="air">Air</text>
<text x="158.5" y="364.0" class="air">Air</text>
<text x="221.1" y="329.9" class="air">Air</text>
<text x="286.4" y="317.4" class="air">Air</text>
<text x="201.9" y="470.8" class="ann">C<tspan class="sub" dy="2.2">60</tspan><tspan dy="-2.2">Br</tspan><tspan class="sub" dy="2.2">24</tspan><tspan dy="-2.2">@8% SWCNT</tspan></text>
<rect x="382.6" y="264.4" width="273.8" height="220.9" fill="none" stroke="#333" stroke-width="1.3"/>
<polyline points="382.8,421.9 383.3,422.1 383.8,421.8 384.3,421.4 384.8,420.9 385.3,421.1 385.8,421.0 386.3,421.1 386.8,420.8 387.3,420.8 387.8,420.4 388.3,420.5 388.8,420.5 389.3,420.1 389.8,420.0 390.3,420.0 390.8,419.7 391.3,419.8 391.8,420.0 392.3,419.7 392.8,420.0 393.3,420.0 393.8,420.2 394.3,419.9 394.8,419.5 395.3,419.9 395.8,420.1 396.3,419.9 396.8,419.6 397.3,419.5 397.8,419.7 398.3,418.9 398.8,418.7 399.3,418.0 399.8,417.0 400.3,416.6 400.8,415.8 401.3,415.6 401.8,415.1 402.3,414.3 402.8,413.8 403.3,413.2 403.8,412.8 404.3,412.4 404.8,411.3 405.3,410.7 405.8,410.3 406.3,409.7 406.8,409.3 407.3,408.5 407.8,408.5 408.3,408.0 408.8,407.2 409.3,407.0 409.8,406.4 410.3,405.8 410.8,405.5 411.3,404.9 411.8,404.5 412.3,404.5 412.8,404.2 413.3,403.4 413.8,403.4 414.3,403.0 414.8,403.1 415.3,403.5 415.9,403.5 416.4,403.4 416.9,403.3 417.4,403.3 417.9,403.1 418.4,403.7 418.9,403.3 419.5,403.4 420.0,403.6 420.5,403.6 421.0,403.9 421.5,403.4 422.0,403.6 422.5,403.6 423.0,403.3 423.5,403.3 424.0,402.9 424.5,402.9 425.0,402.8 425.5,402.5 426.0,402.2 426.5,402.2 427.0,401.9 427.5,401.4 428.0,401.6 428.5,401.2 429.0,401.2 429.5,401.3 430.1,400.8 430.6,400.4 431.1,400.2 431.6,400.3 432.1,400.2 432.6,400.0 433.1,399.9 433.6,400.1 434.1,399.7 434.6,399.5 435.1,399.7 435.6,399.5 436.1,399.1 436.6,399.0 437.1,398.8 437.6,398.5 438.1,398.4 438.6,398.2 439.1,398.4 439.6,398.1 440.1,398.1 440.6,398.3 441.1,398.2 441.6,397.8 442.1,397.6 442.6,397.3 443.1,397.1 443.6,397.0 444.1,397.1 444.6,397.2 445.1,396.8 445.6,396.2 446.1,396.2 446.6,395.9 447.1,395.6 447.6,396.0 448.1,395.6 448.6,395.8 449.1,395.5 449.6,395.8 450.1,395.7 450.6,395.1 451.1,394.8 451.6,395.1 452.1,395.0 452.6,394.7 453.1,394.8 453.6,394.8 454.1,394.5 454.6,394.2 455.1,393.8 455.6,393.7 456.1,393.4 456.6,393.5 457.1,393.5 457.6,393.1 458.1,393.2 458.6,392.8 459.1,392.5 459.6,392.7 460.1,392.6 460.6,392.1 461.1,391.2 461.6,390.5 462.1,389.3 462.6,388.9 463.1,387.8 463.6,387.3 464.1,386.9 464.6,386.5 465.1,385.9 465.6,385.1 466.1,384.5 466.6,384.1 467.1,383.1 467.6,383.0 468.1,382.6 468.6,381.9 469.1,381.6 469.6,381.0 470.1,380.4 470.6,380.2 471.1,379.4 471.6,379.4 472.1,379.3 472.6,378.7 473.1,378.6 473.6,377.9 474.1,377.9 474.6,377.3 475.1,377.4 475.6,376.9 476.1,376.9 476.6,376.2 477.1,375.7 477.6,375.9 478.1,375.7 478.6,375.5 479.1,374.9 479.6,374.6 480.1,374.6 480.6,374.4 481.1,374.9 481.6,374.9 482.1,375.0 482.6,374.8 483.1,374.5 483.6,374.0 484.1,374.2 484.6,373.9 485.1,373.9 485.6,373.9 486.1,373.8 486.6,373.5 487.1,373.2 487.6,373.4 488.1,373.1 488.6,373.2 489.1,373.0 489.6,372.9 490.2,372.8 490.7,372.9 491.2,372.8 491.7,372.6 492.2,372.5 492.7,372.6 493.2,372.9 493.7,372.6 494.2,372.3 494.7,372.1 495.2,372.0 495.7,372.1 496.2,372.3 496.7,372.1 497.2,371.8 497.7,371.6 498.2,371.6 498.7,371.5 499.2,371.4 499.7,371.8 500.2,371.6 500.7,371.6 501.2,371.5 501.7,371.4 502.2,371.5 502.7,371.1 503.2,371.2 503.7,371.3 504.2,370.8 504.7,370.9 505.2,370.7 505.7,370.3 506.2,370.1 506.7,370.4 507.2,370.1 507.7,370.4 508.2,370.0 508.7,370.0 509.2,369.7 509.7,369.9 510.2,370.1 510.7,369.8 511.2,369.8 511.7,370.1 512.2,369.7 512.7,369.6 513.2,369.7 513.7,369.8 514.2,369.4 514.7,369.5 515.2,369.1 515.7,368.9 516.2,369.3 516.7,368.9 517.2,369.2 517.7,369.2 518.2,369.1 518.7,369.1 519.2,369.0 519.7,368.6 520.2,368.5 520.7,367.6 521.2,367.2 521.7,366.5 522.2,365.9 522.7,364.8 523.2,364.1 523.7,363.2 524.3,362.7 524.8,362.2 525.3,361.7 525.8,360.9 526.3,360.2 526.8,359.5 527.3,358.4 527.8,357.9 528.3,356.9 528.8,356.3 529.3,355.6 529.8,355.5 530.3,354.5 530.8,354.3 531.3,353.9 531.8,353.1 532.4,352.7 532.9,351.6 533.4,350.9 533.9,350.2 534.4,349.6 534.9,348.9 535.4,348.9 535.9,348.2 536.4,348.4 536.9,348.2 537.4,348.1 537.9,348.2 538.4,348.1 538.9,348.5 539.4,348.4 539.9,348.4 540.4,348.4 541.0,348.4 541.5,348.3 542.0,348.1 542.5,347.9 543.0,348.3 543.5,348.0 544.0,348.1 544.5,348.3 545.0,348.3 545.5,348.5 546.0,348.5 546.5,348.3 547.0,347.9 547.5,348.0 548.0,348.0 548.5,348.2 549.0,348.1 549.5,348.2 550.0,348.2 550.5,348.0 551.1,348.2 551.6,348.3 552.1,347.8 552.6,348.1 553.1,348.2 553.6,348.2 554.1,347.9 554.6,347.6 555.1,347.4 555.6,347.5 556.1,347.5 556.6,347.0 557.1,346.3 557.6,346.1 558.0,345.6 558.5,345.6 559.0,345.5 559.5,345.4 560.0,344.6 560.5,344.3 561.0,344.0 561.5,344.3 562.0,344.4 562.5,344.2 563.0,344.3 563.5,344.0 564.0,344.0 564.5,343.8 565.0,343.5 565.5,343.8 566.0,343.7 566.5,343.5 567.0,343.5 567.5,343.3 568.0,343.3 568.5,342.7 569.0,342.4 569.5,342.2 570.0,342.4 570.5,342.5 571.0,342.1 571.4,342.2 571.9,341.8 572.4,342.0 572.9,342.1 573.4,341.7 573.9,342.0 574.4,341.9 574.9,341.4 575.4,341.3 575.9,341.0 576.4,341.3 576.9,341.5 577.4,341.0 577.9,340.7 578.4,340.8 578.9,341.0 579.4,341.0 579.9,340.7 580.4,340.3 580.9,340.4 581.4,340.3 581.9,340.4 582.4,339.5 582.9,338.8 583.4,338.2 583.9,337.3 584.4,336.6 584.9,335.5 585.4,334.4 585.9,334.1 586.4,333.0 586.9,332.8 587.4,331.9 587.9,330.9 588.4,330.2 588.9,329.9 589.4,329.2 590.0,328.7 590.5,327.8 591.0,327.5 591.5,326.8 592.0,326.5 592.5,325.6 593.0,325.2 593.5,324.6 594.0,324.0 594.5,323.2 595.0,322.9 595.5,322.7 596.0,321.8 596.5,321.4 597.0,320.7 597.5,320.7 598.0,321.0 598.5,320.9 599.0,320.7 599.5,320.3 600.0,320.2 600.5,320.5 601.0,320.7 601.5,321.0 602.0,321.0 602.5,320.7 603.0,320.4 603.5,320.5 604.0,320.4 604.5,320.4 605.0,320.7 605.5,320.5 606.0,320.8 606.5,320.8 607.0,320.3 607.5,320.5 608.0,320.6 608.6,320.6 609.1,320.1 609.6,320.5 610.1,320.4 610.6,320.4 611.1,320.1 611.6,319.9 612.1,319.8 612.6,319.8 613.1,319.9 613.6,319.9 614.1,319.8 614.6,320.2 615.1,320.4 615.6,320.6 616.1,320.2 616.6,320.4 617.1,320.4 617.6,320.0 618.1,320.4 618.6,320.2 619.1,320.0 619.6,319.7 620.1,320.1 620.6,319.7 621.1,319.5 621.6,319.5 622.1,319.3 622.6,319.3 623.1,318.8 623.6,318.8 624.1,318.8 624.5,318.8 625.0,318.7 625.5,318.3 626.0,318.3 626.5,318.5 627.0,318.2 627.5,318.1 628.0,318.1 628.5,317.6 629.0,317.3 629.5,317.6 630.0,317.2 630.5,317.1 631.0,316.9 631.5,317.3 632.0,317.1 632.5,317.2 633.0,316.7 633.5,316.5 634.0,316.6 634.5,316.4 635.0,316.5 635.5,316.4 636.0,316.0 636.5,315.8 637.0,315.9 637.5,316.0 638.0,315.7 638.5,315.6 639.0,315.4 639.5,315.4 640.0,315.4 640.5,315.4 641.0,315.5 641.5,315.7 642.0,315.7 642.5,315.6 643.0,315.3 643.5,315.2" fill="none" stroke="#000" stroke-width="0.75" stroke-linejoin="round"/>
<rect x="398.2" y="264.0" width="15.7" height="220.6" fill="rgba(255,0,0,0.32)"/>
<rect x="461.4" y="264.0" width="15.5" height="220.6" fill="rgba(255,0,0,0.32)"/>
<rect x="520.7" y="264.0" width="15.1" height="220.6" fill="rgba(255,0,0,0.32)"/>
<rect x="582.5" y="264.0" width="15.3" height="220.6" fill="rgba(255,0,0,0.32)"/>
<line x1="382.6" y1="485.3" x2="382.6" y2="489.3" stroke="#333" stroke-width="1.2"/>
<text x="382.6" y="501.0" text-anchor="middle" class="tk">0</text>
<line x1="397.8" y1="485.3" x2="397.8" y2="487.8" stroke="#333" stroke-width="1.2"/>
<line x1="413.0" y1="485.3" x2="413.0" y2="489.3" stroke="#333" stroke-width="1.2"/>
<text x="413.0" y="501.0" text-anchor="middle" class="tk">20</text>
<line x1="428.2" y1="485.3" x2="428.2" y2="487.8" stroke="#333" stroke-width="1.2"/>
<line x1="443.4" y1="485.3" x2="443.4" y2="489.3" stroke="#333" stroke-width="1.2"/>
<text x="443.4" y="501.0" text-anchor="middle" class="tk">40</text>
<line x1="458.7" y1="485.3" x2="458.7" y2="487.8" stroke="#333" stroke-width="1.2"/>
<line x1="473.9" y1="485.3" x2="473.9" y2="489.3" stroke="#333" stroke-width="1.2"/>
<text x="473.9" y="501.0" text-anchor="middle" class="tk">60</text>
<line x1="489.1" y1="485.3" x2="489.1" y2="487.8" stroke="#333" stroke-width="1.2"/>
<line x1="504.3" y1="485.3" x2="504.3" y2="489.3" stroke="#333" stroke-width="1.2"/>
<text x="504.3" y="501.0" text-anchor="middle" class="tk">80</text>
<line x1="519.5" y1="485.3" x2="519.5" y2="487.8" stroke="#333" stroke-width="1.2"/>
<line x1="534.7" y1="485.3" x2="534.7" y2="489.3" stroke="#333" stroke-width="1.2"/>
<text x="534.7" y="501.0" text-anchor="middle" class="tk">100</text>
<line x1="549.9" y1="485.3" x2="549.9" y2="487.8" stroke="#333" stroke-width="1.2"/>
<line x1="565.1" y1="485.3" x2="565.1" y2="489.3" stroke="#333" stroke-width="1.2"/>
<text x="565.1" y="501.0" text-anchor="middle" class="tk">120</text>
<line x1="580.3" y1="485.3" x2="580.3" y2="487.8" stroke="#333" stroke-width="1.2"/>
<line x1="595.6" y1="485.3" x2="595.6" y2="489.3" stroke="#333" stroke-width="1.2"/>
<text x="595.6" y="501.0" text-anchor="middle" class="tk">140</text>
<line x1="610.8" y1="485.3" x2="610.8" y2="487.8" stroke="#333" stroke-width="1.2"/>
<line x1="626.0" y1="485.3" x2="626.0" y2="489.3" stroke="#333" stroke-width="1.2"/>
<text x="626.0" y="501.0" text-anchor="middle" class="tk">160</text>
<line x1="641.2" y1="485.3" x2="641.2" y2="487.8" stroke="#333" stroke-width="1.2"/>
<line x1="656.4" y1="485.3" x2="656.4" y2="489.3" stroke="#333" stroke-width="1.2"/>
<text x="656.4" y="501.0" text-anchor="middle" class="tk">180</text>
<line x1="378.6" y1="485.3" x2="382.6" y2="485.3" stroke="#333" stroke-width="1.2"/>
<text x="375.1" y="488.4" text-anchor="end" class="tk">14.0</text>
<line x1="380.1" y1="457.7" x2="382.6" y2="457.7" stroke="#333" stroke-width="1.2"/>
<line x1="378.6" y1="430.1" x2="382.6" y2="430.1" stroke="#333" stroke-width="1.2"/>
<text x="375.1" y="433.2" text-anchor="end" class="tk">14.5</text>
<line x1="380.1" y1="402.5" x2="382.6" y2="402.5" stroke="#333" stroke-width="1.2"/>
<line x1="378.6" y1="374.9" x2="382.6" y2="374.9" stroke="#333" stroke-width="1.2"/>
<text x="375.1" y="378.0" text-anchor="end" class="tk">15.0</text>
<line x1="380.1" y1="347.2" x2="382.6" y2="347.2" stroke="#333" stroke-width="1.2"/>
<line x1="378.6" y1="319.6" x2="382.6" y2="319.6" stroke="#333" stroke-width="1.2"/>
<text x="375.1" y="322.7" text-anchor="end" class="tk">15.5</text>
<line x1="380.1" y1="292.0" x2="382.6" y2="292.0" stroke="#333" stroke-width="1.2"/>
<line x1="378.6" y1="264.4" x2="382.6" y2="264.4" stroke="#333" stroke-width="1.2"/>
<text x="375.1" y="267.5" text-anchor="end" class="tk">16.0</text>
<text x="519.5" y="513.5" text-anchor="middle" class="ttl">Time (min)</text>
<text transform="translate(349.8,374.6) rotate(-90)" text-anchor="middle" class="ttl">Resistance <tspan font-weight="normal" stroke-width="0">(&#937;)</tspan></text>
<text x="387.7" y="280.6" class="tag">(d)</text>
<text transform="translate(410.5,370.85) rotate(-90)" text-anchor="middle" class="ppm">0.1 ppm</text>
<text transform="translate(472.0,350.55) rotate(-90)" text-anchor="middle" class="ppm">0.2 ppm</text>
<text transform="translate(531.1,397.1) rotate(-90)" text-anchor="middle" class="ppm">0.5 ppm</text>
<text transform="translate(594.0,372.9) rotate(-90)" text-anchor="middle" class="ppm">1 ppm</text>
<text x="424.9" y="382.5" class="air">Air</text>
<text x="487.9" y="356.9" class="air">Air</text>
<text x="545.0" y="333.1" class="air">Air</text>
<text x="613.8" y="301.9" class="air">Air</text>
<text x="533.9" y="471.7" class="ann">C<tspan class="sub" dy="2.2">60</tspan><tspan dy="-2.2">Br</tspan><tspan class="sub" dy="2.2">24</tspan><tspan dy="-2.2">@10% SWCNT</tspan></text>
</svg>
</body></html>
